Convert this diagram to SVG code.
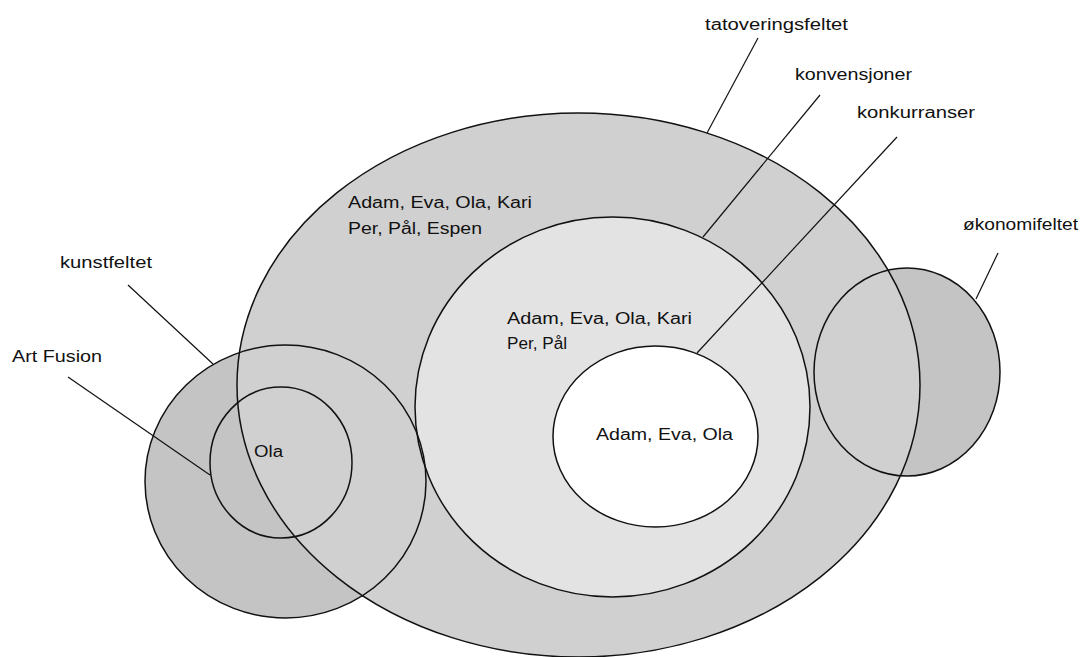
<svg xmlns="http://www.w3.org/2000/svg" width="1083" height="657" viewBox="0 0 1083 657">
<style>
.under{fill:#c4c4c4;stroke:none}
.shape{stroke:#111;stroke-width:1.5}
.outline{fill:none;stroke:#111;stroke-width:1.5}
.big{fill:#d0d0d0}
.mid{fill:#e3e3e3}
.inner{fill:#ffffff}
.lbl{font-family:"Liberation Sans",Arial,sans-serif;font-size:16px;fill:#111}
.conn line{stroke:#111;stroke-width:1.2}
</style>
<rect width="1083" height="657" fill="#ffffff"/>
<g id="underlay">
<ellipse class="under" cx="285.5" cy="481.5" rx="140.5" ry="136.5"/>
<ellipse class="under" cx="907" cy="372" rx="93" ry="104"/>
</g>
<g id="tatoveringsfeltet">
<ellipse class="shape big" cx="578.5" cy="385" rx="341.5" ry="272"/>
<text class="lbl" x="705" y="30" textLength="143" lengthAdjust="spacingAndGlyphs">tatoveringsfeltet</text>
<text class="lbl" x="348" y="208" textLength="184" lengthAdjust="spacingAndGlyphs">Adam, Eva, Ola, Kari</text>
<text class="lbl" x="348" y="234" textLength="134" lengthAdjust="spacingAndGlyphs">Per, Pål, Espen</text>
</g>
<g id="konvensjoner">
<ellipse class="shape mid" cx="612.5" cy="407" rx="197.5" ry="190"/>
<text class="lbl" x="795" y="80" textLength="117" lengthAdjust="spacingAndGlyphs">konvensjoner</text>
<text class="lbl" x="507" y="324" textLength="185" lengthAdjust="spacingAndGlyphs">Adam, Eva, Ola, Kari</text>
<text class="lbl" x="507" y="349" textLength="60" lengthAdjust="spacingAndGlyphs">Per, Pål</text>
</g>
<g id="konkurranser">
<ellipse class="shape inner" cx="655.5" cy="436.5" rx="102.5" ry="90.5"/>
<text class="lbl" x="857" y="118" textLength="118" lengthAdjust="spacingAndGlyphs">konkurranser</text>
<text class="lbl" x="596" y="440" textLength="137" lengthAdjust="spacingAndGlyphs">Adam, Eva, Ola</text>
</g>
<g id="kunstfeltet">
<ellipse class="outline" cx="285.5" cy="481.5" rx="140.5" ry="136.5"/>
<text class="lbl" x="60" y="268" textLength="92" lengthAdjust="spacingAndGlyphs">kunstfeltet</text>
</g>
<g id="artfusion">
<ellipse class="outline" cx="281" cy="462.5" rx="71" ry="75.5"/>
<text class="lbl" x="12" y="362" textLength="90" lengthAdjust="spacingAndGlyphs">Art Fusion</text>
<text class="lbl" x="254" y="457" textLength="29" lengthAdjust="spacingAndGlyphs">Ola</text>
</g>
<g id="okonomifeltet">
<ellipse class="outline" cx="907" cy="372" rx="93" ry="104"/>
<text class="lbl" x="963" y="230" textLength="115" lengthAdjust="spacingAndGlyphs">økonomifeltet</text>
</g>
<g id="connectors" class="conn">
<line x1="758" y1="38" x2="707" y2="133"/>
<line x1="820" y1="95" x2="703" y2="237"/>
<line x1="897" y1="137" x2="697" y2="353"/>
<line x1="128" y1="285" x2="213" y2="364"/>
<line x1="68" y1="377" x2="210" y2="475"/>
<line x1="998" y1="253" x2="976" y2="299"/>
</g>
</svg>
